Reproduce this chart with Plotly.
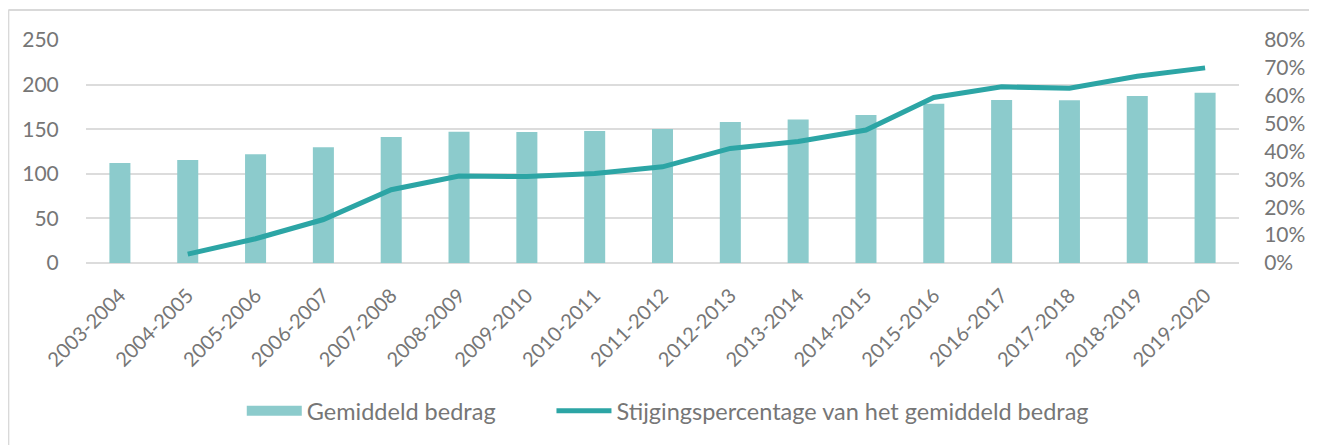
import plotly.graph_objects as go

categories = ["2003-2004", "2004-2005", "2005-2006", "2006-2007", "2007-2008", "2008-2009",
              "2009-2010", "2010-2011", "2011-2012", "2012-2013", "2013-2014", "2014-2015",
              "2015-2016", "2016-2017", "2017-2018", "2018-2019", "2019-2020"]
gemiddeld_bedrag = [112, 115.5, 121.8, 129.7, 141.3, 147.2, 146.9, 148, 150.2, 158, 161,
                    165.9, 178.6, 182.7, 182.4, 187.2, 190.9]
stijgingspercentage = [None, 3.2, 8.7, 15.6, 26.3, 31.2, 31.0, 32.1, 34.5, 41.1, 43.6,
                       47.7, 59.4, 63.2, 62.7, 67.0, 70.0]

bar_color = "#8ccbcc"
line_color = "#2ca5a5"
font_color = "#767676"

fig = go.Figure()
fig.add_trace(go.Bar(x=categories, y=gemiddeld_bedrag, name="Gemiddeld bedrag",
                     marker=dict(color=bar_color, line=dict(width=0)), yaxis="y",
                     showlegend=False))
# legend stand-in for the bars (wide rectangle swatch)
fig.add_trace(go.Scatter(x=[categories[0]], y=[None], name="Gemiddeld bedrag", mode="lines",
                         line=dict(color=bar_color, width=16), yaxis="y", showlegend=True,
                         legend="legend"))
fig.add_trace(go.Scatter(x=categories, y=[None if v is None else v / 100 for v in stijgingspercentage],
                         name="Stijgingspercentage van het gemiddeld bedrag", mode="lines",
                         line=dict(color=line_color, width=5), yaxis="y2", legend="legend2"))

legend_common = dict(orientation="h", xanchor="left", y=-0.664, yanchor="middle",
                     font=dict(size=23.5, color=font_color), itemwidth=55,
                     bgcolor="rgba(0,0,0,0)")

fig.update_layout(
    width=1309, height=437,
    margin=dict(l=78, r=73, t=32, b=182),
    paper_bgcolor="white", plot_bgcolor="white",
    font=dict(family="Lato", color=font_color, size=20),
    bargap=0.69,
    showlegend=True,
    legend=dict(x=0.1351, **legend_common),
    legend2=dict(x=0.4037, **legend_common),
    xaxis=dict(type="category", tickangle=-45, showgrid=False, showline=False,
               ticks="outside", ticklen=12, tickcolor="rgba(0,0,0,0)",
               tickfont=dict(size=20, color=font_color)),
    yaxis=dict(range=[0, 250], dtick=50, showgrid=True, gridcolor="#dcdcdc", gridwidth=2,
               zeroline=True, zerolinecolor="#dcdcdc", zerolinewidth=2, showline=False,
               ticks="outside", ticklen=22, tickcolor="rgba(0,0,0,0)",
               tickfont=dict(size=21, color=font_color)),
    yaxis2=dict(range=[0, 0.8], dtick=0.1, tickformat=".0%", overlaying="y", side="right",
                showgrid=False, zeroline=False, showline=False,
                ticks="outside", ticklen=20, tickcolor="rgba(0,0,0,0)",
                tickfont=dict(size=21, color=font_color)),
)

bx = -78 / 1158
by = (255 - 2) / 223
fig.add_shape(type="line", xref="paper", yref="paper", x0=bx, x1=bx, y0=by, y1=-1.0,
              line=dict(color="#d9d9d9", width=2))
fig.add_shape(type="line", xref="paper", yref="paper", x0=bx, x1=1.07, y0=by, y1=by,
              line=dict(color="#d9d9d9", width=2))

fig.write_html("out.html")
